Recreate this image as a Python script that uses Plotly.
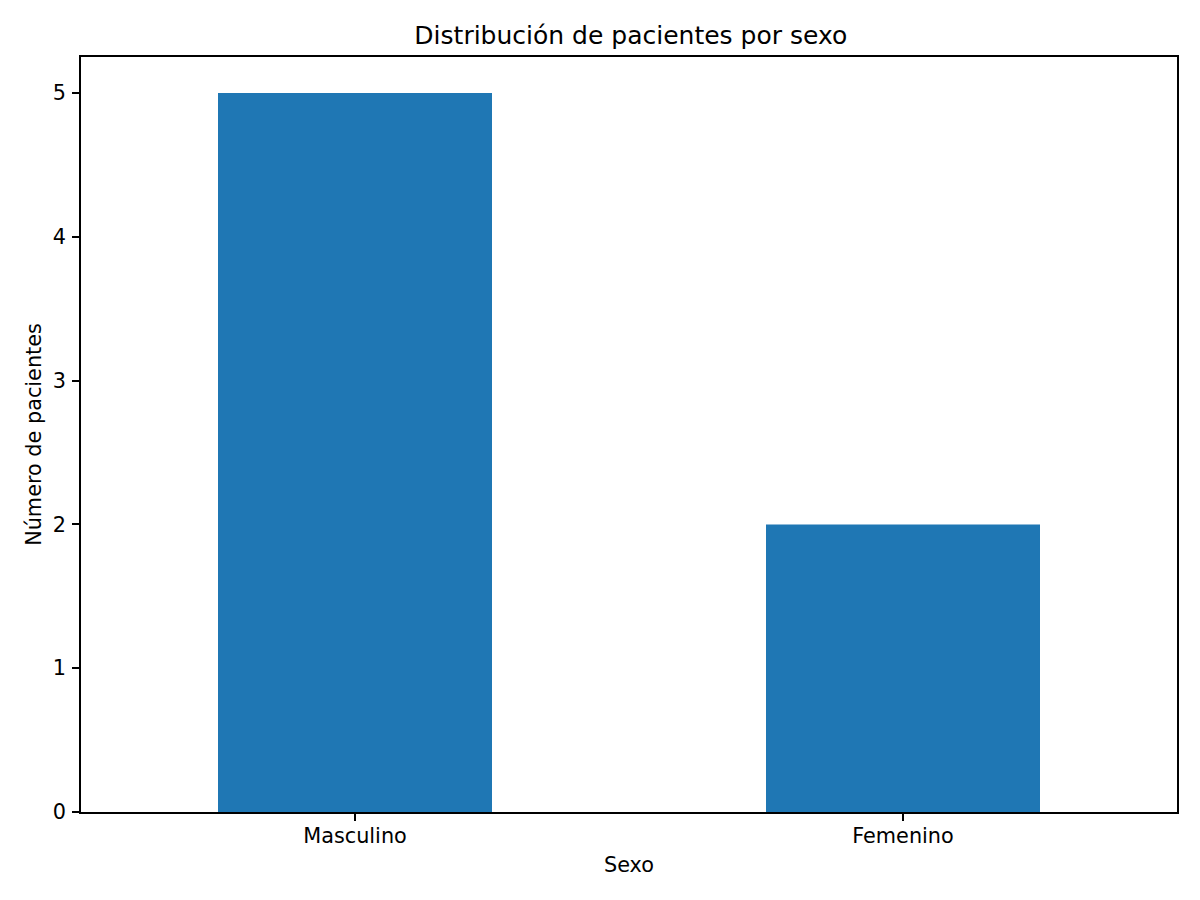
import plotly.graph_objects as go

# Patient counts by sex
categorias = ["Masculino", "Femenino"]
pacientes = [5, 2]
y_ticks = [0, 1, 2, 3, 4, 5]

FONT = "DejaVu Sans"

fig = go.Figure(go.Bar(
    x=categorias,
    y=pacientes,
    width=0.5,
    marker=dict(color="#1f77b4", line=dict(width=0)),
))

axis_common = dict(
    showline=True, linecolor="black", linewidth=1.6, mirror=True,
    ticks="outside", ticklen=7, tickwidth=1.6, tickcolor="black",
    showgrid=False, zeroline=False,
    tickfont=dict(family=FONT, size=20.8, color="black"),
)

# page has a small body margin, so margins are shifted to compensate
fig.update_layout(
    width=1200, height=900,
    margin=dict(l=73, r=31, t=49, b=96),
    paper_bgcolor="white", plot_bgcolor="white",
    showlegend=False,
    title=dict(
        text="Distribución de pacientes por sexo",
        font=dict(family=FONT, size=25, color="black"),
        x=0.519, xanchor="center",
        y=1 - 27 / 900, yanchor="middle", yref="container",
    ),
    xaxis=dict(
        range=[-0.5, 1.5],
        title=dict(text="Sexo", font=dict(family=FONT, size=20.8, color="black"), standoff=11),
        ticklabelstandoff=-3,
        **axis_common,
    ),
    yaxis=dict(
        range=[0, 5.25],
        tickvals=y_ticks,
        title=dict(text="Número de pacientes", font=dict(family=FONT, size=20.8, color="black"), standoff=6),
        ticklabelstandoff=2,
        **axis_common,
    ),
)

fig.write_html("out.html")
